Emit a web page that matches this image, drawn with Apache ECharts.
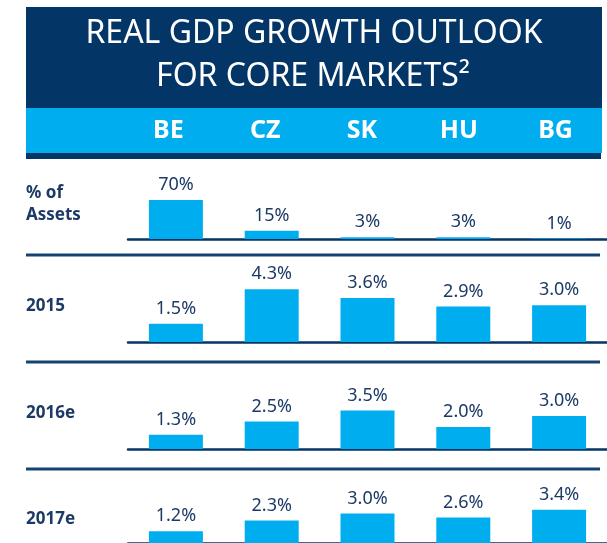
<!DOCTYPE html>
<html>
<head>
<meta charset="utf-8">
<script src="https://cdn.jsdelivr.net/npm/echarts@6/dist/echarts.min.js"></script>
<style>
html,body{margin:0;padding:0;background:#fff;}
#chart{width:607px;height:543px;}
</style>
</head>
<body>
<div id="chart"></div>
<script>
const categories = ['BE', 'CZ', 'SK', 'HU', 'BG'];
const assetShare = [70, 15, 3, 3, 1];
const growth2015 = [1.5, 4.3, 3.6, 2.9, 3.0];
const growth2016e = [1.3, 2.5, 3.5, 2.0, 3.0];
const growth2017e = [1.2, 2.3, 3.0, 2.6, 3.4];
const rowLabels = ['% of\nAssets', '2015', '2016e', '2017e'];
const titleLines = ['REAL GDP GROWTH OUTLOOK', 'FOR CORE MARKETS\u00B2'];

const NAVY = '#033667';
const BLUE = '#00AEEF';
const TEXT = '#1d3a66';
const FONT = '"Noto Sans", sans-serif';

const chart = echarts.init(document.getElementById('chart'), null, {renderer: 'canvas'});

// row layouts: [top, height, yMax]
const rows = [
  {top: 170, height: 69, max: 123.9, data: assetShare, fmt: v => v + '%'},
  {top: 282, height: 60, max: 4.9, data: growth2015, fmt: v => v.toFixed(1) + '%'},
  {top: 399, height: 50, max: 4.55, data: growth2016e, fmt: v => v.toFixed(1) + '%'},
  {top: 494, height: 50, max: 5.0, data: growth2017e, fmt: v => v.toFixed(1) + '%'}
];

const grids = [], xAxes = [], yAxes = [], series = [];
rows.forEach((r, i) => {
  grids.push({left: 128, width: 484, top: r.top, height: r.height});
  xAxes.push({
    type: 'category', gridIndex: i, data: categories,
    axisLine: {show: true, lineStyle: {color: NAVY, width: 2.5}},
    axisTick: {show: false}, axisLabel: {show: false}, splitLine: {show: false}
  });
  yAxes.push({type: 'value', gridIndex: i, min: 0, max: r.max, show: false, splitLine: {show: false}});
  series.push({
    type: 'bar', xAxisIndex: i, yAxisIndex: i, data: r.data, barWidth: 54,
    itemStyle: {color: BLUE}, silent: true,
    label: {show: true, position: 'top', distance: 6, color: TEXT, fontFamily: FONT, fontSize: 18,
      formatter: p => r.fmt(p.value)}
  });
});
// header grid for country codes
grids.push({left: 120, width: 484, top: 131, height: 1});
xAxes.push({
  type: 'category', gridIndex: 4, data: categories, position: 'top',
  axisLine: {show: false}, axisTick: {show: false}, splitLine: {show: false},
  axisLabel: {show: true, margin: 0, verticalAlign: 'middle', color: '#ffffff', fontWeight: 'bold', fontFamily: FONT, fontSize: 25}
});
yAxes.push({type: 'value', gridIndex: 4, show: false, splitLine: {show: false}});

const graphics = [
  {type: 'rect', shape: {x: 26, y: 7, width: 576, height: 101}, style: {fill: NAVY}, z: -10},
  {type: 'rect', shape: {x: 26, y: 108, width: 576, height: 45}, style: {fill: BLUE}, z: -10},
  {type: 'rect', shape: {x: 26, y: 153, width: 575, height: 6}, style: {fill: NAVY}, z: -10},
  {type: 'text', x: 314, y: 34, style: {text: titleLines[0], fill: '#fff', font: '32px ' + FONT, textAlign: 'center', textVerticalAlign: 'middle'}},
  {type: 'text', x: 313, y: 77, style: {text: titleLines[1], fill: '#fff', font: '32px ' + FONT, textAlign: 'center', textVerticalAlign: 'middle'}}
];
[255, 362, 469].forEach(y => {
  graphics.push({type: 'line', shape: {x1: 26, y1: y, x2: 600, y2: y}, style: {stroke: '#17426f', lineWidth: 3}});
});
const labelY = [204, 306, 413, 519];
rowLabels.forEach((t, i) => {
  graphics.push({type: 'text', x: 26, y: labelY[i], style: {text: t, fill: TEXT, font: 'bold 17px ' + FONT, textAlign: 'left', textVerticalAlign: 'middle', lineHeight: 22}});
});

chart.setOption({
  animation: false,
  backgroundColor: '#ffffff',
  grid: grids, xAxis: xAxes, yAxis: yAxes, series: series,
  graphic: graphics
});
</script>
</body>
</html>
